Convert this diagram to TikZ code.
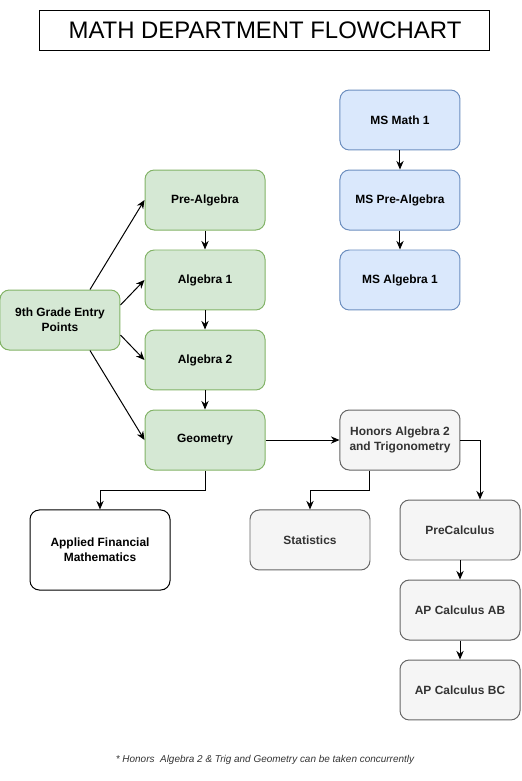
\documentclass[tikz,border=0pt]{standalone}
\usepackage{fontspec}
\setmainfont{Liberation Sans}
\usepackage{tikz}
\usetikzlibrary{arrows.meta,positioning}
\definecolor{greenfill}{HTML}{D5E8D4}
\definecolor{greenline}{HTML}{82B366}
\definecolor{bluefill}{HTML}{DAE8FC}
\definecolor{blueline}{HTML}{6C8EBF}
\definecolor{grayfill}{HTML}{F5F5F5}
\definecolor{grayline}{HTML}{666666}
\definecolor{graytext}{HTML}{333333}
\tikzset{
  course/.style={rectangle, rounded corners=7pt, line width=0.75pt, align=center,
    minimum width=3.175cm, minimum height=1.587cm, font=\bfseries\fontsize{9}{11}\selectfont},
  hs/.style={course, draw=greenline, fill=greenfill},
  ms/.style={course, draw=blueline, fill=bluefill},
  adv/.style={course, draw=grayline, fill=grayfill, text=graytext},
  plain/.style={course, draw=black, fill=white},
  link/.style={-{Stealth[length=6.5pt,width=5.5pt]}, line width=0.75pt}
}

\begin{document}
\begin{tikzpicture}
\useasboundingbox (0cm,0cm) rectangle (13.785cm,-20.664cm);
\node[draw, line width=0.75pt, minimum width=11.906cm, minimum height=1.058cm,
  font=\fontsize{18}{22}\selectfont] (0) at (7.011cm,-0.794cm) {MATH DEPARTMENT FLOWCHART};
% middle school
\node[ms] (1) at (10.583cm,-3.175cm) {MS Math 1};
\node[ms] (2) at (10.583cm,-5.292cm) {MS Pre-Algebra};
\node[ms] (3) at (10.583cm,-7.408cm) {MS Algebra 1};
% high school
\node[hs] (4) at (1.587cm,-8.467cm) {9th Grade Entry\\Points};
\node[hs] (5) at (5.424cm,-5.292cm) {Pre-Algebra};
\node[hs] (6) at (5.424cm,-7.408cm) {Algebra 1};
\node[hs] (7) at (5.424cm,-9.525cm) {Algebra 2};
\node[hs] (8) at (5.424cm,-11.642cm) {Geometry};
\node[adv] (9) at (10.583cm,-11.642cm) {Honors Algebra 2\\and Trigonometry};
\node[plain, minimum width=3.704cm, minimum height=2.117cm] (10) at (2.646cm,-14.552cm) {Applied Financial\\Mathematics};
\node[adv] (11) at (8.202cm,-14.287cm) {Statistics};
\node[adv] (12) at (12.171cm,-14.023cm) {PreCalculus};
\node[adv] (13) at (12.171cm,-16.140cm) {AP Calculus AB};
\node[adv] (14) at (12.171cm,-18.256cm) {AP Calculus BC};
\node[font=\itshape\fontsize{7.5}{9}\selectfont, text=graytext] (15) at (7.011cm,-20.108cm)
  {* Honors\ \ Algebra 2 \& Trig and Geometry can be taken concurrently};
\draw[link] (1) -- (2);
\draw[link] (2) -- (3);
\draw[link] ([xshift=0.794cm]4.north) -- (5.west);
\draw[link] ([yshift=0.397cm]4.east) -- (6.west);
\draw[link] ([yshift=-0.397cm]4.east) -- (7.west);
\draw[link] ([xshift=0.794cm]4.south) -- (8.west);
\draw[link] (5) -- (6);
\draw[link] (6) -- (7);
\draw[link] (7) -- (8);
\draw[link] (8) -- (9);
\draw[link] (8.south) -- ++(0cm,-0.529cm) -| (10.north);
\draw[link] ([xshift=-0.794cm]9.south) -- ++(0cm,-0.529cm) -| (11.north);
\draw[link] (9.east) -| ([xshift=0.529cm]12.north);
\draw[link] (12) -- (13);
\draw[link] (13) -- (14);
\end{tikzpicture}
\end{document}
